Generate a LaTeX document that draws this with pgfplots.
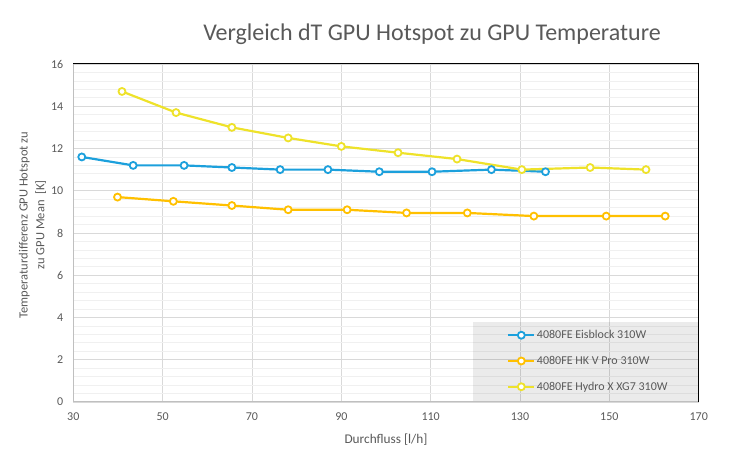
\documentclass[border=0pt]{standalone}
\usepackage{pgfplots}
\pgfplotsset{compat=1.18}
\usepackage{fontspec}
\setmainfont{Carlito}
\definecolor{txt}{HTML}{595959}
\definecolor{cblue}{HTML}{1CA0DC}
\definecolor{corange}{HTML}{FFC000}
\definecolor{cyellow}{HTML}{EEE22A}
\definecolor{gmaj}{HTML}{D9D9D9}
\definecolor{gmin}{HTML}{F0F0F0}
\definecolor{axgray}{HTML}{BFBFBF}
\begin{document}
\begin{tikzpicture}[x=1pt,y=1pt]
\path (0,0) rectangle (751,470);
\begin{axis}[
  at={(73.3pt,68pt)}, anchor=south west, scale only axis,
  width=625.4pt, height=338pt,
  xmin=30, xmax=170, ymin=0, ymax=16,
  xtick={30,50,...,170}, ytick={0,2,...,16},
  minor y tick num=4,
  grid=both,
  major grid style={gmaj, line width=0.75pt},
  minor grid style={gmin, line width=0.75pt},
  axis line style={draw=none},
  major tick length=0pt, minor tick length=0pt,
  clip=false,
  tick label style={font=\fontsize{12}{14}\selectfont, text=txt},
  /pgf/number format/assume math mode=true,
  xticklabel style={yshift=-7.5pt},
  yticklabel style={xshift=-6.6pt},
  legend cell align=left,
  legend style={at={(0.6935,0.1213)}, anchor=west, draw=none, fill=none,
    inner sep=0pt, row sep=13pt, font=\fontsize{12}{14}\selectfont, text=txt,
    nodes={inner sep=1.5pt}},
  legend image code/.code={\draw[#1,mark repeat=2,mark phase=2] plot coordinates {(0pt,0pt) (13pt,0pt) (26pt,0pt)};},
]
\fill[black, fill opacity=0.08] (rel axis cs:0.6396,0) rectangle (rel axis cs:1,0.2358);
\addplot[cblue, line width=2.2pt, mark=*, mark size=3.5pt, mark options={fill=white, draw=cblue, line width=1.8pt}]
  coordinates {(31.9,11.6) (43.4,11.2) (54.8,11.2) (65.5,11.1) (76.3,11.0) (87.0,11.0) (98.5,10.9) (110.3,10.9) (123.6,11.0) (135.7,10.9)};
\addlegendentry{4080FE Eisblock 310W}
\addplot[corange, line width=2.2pt, mark=*, mark size=3.5pt, mark options={fill=white, draw=corange, line width=1.8pt}]
  coordinates {(39.9,9.7) (52.4,9.5) (65.5,9.3) (78.1,9.1) (91.3,9.1) (104.6,8.95) (118.2,8.95) (133.1,8.8) (149.3,8.8) (162.5,8.8)};
\addlegendentry{4080FE HK V Pro 310W}
\addplot[cyellow, line width=2.2pt, mark=*, mark size=3.5pt, mark options={fill=white, draw=cyellow, line width=1.8pt}]
  coordinates {(40.9,14.7) (53.0,13.7) (65.5,13.0) (78.1,12.5) (90.0,12.1) (102.7,11.8) (115.9,11.5) (130.4,11.0) (145.7,11.1) (158.2,11.0)};
\addlegendentry{4080FE Hydro X XG7 310W}
\draw[axgray, line width=1pt] (rel axis cs:0,1) -- (rel axis cs:0,0) -- (rel axis cs:1,0);
\draw[black, line width=1pt] (rel axis cs:0,1) -- (rel axis cs:1,1) -- (rel axis cs:1,0);
\end{axis}
\node[text=txt, font=\fontsize{24}{28}\selectfont, anchor=base] at (432,429.3) {Vergleich dT GPU Hotspot zu GPU Temperature};
\node[text=txt, font=\fontsize{13.3}{15}\selectfont, anchor=base] at (386,26.7) {Durchfluss [l/h]};
\node[text=txt, font=\fontsize{12.5}{16.7}\selectfont, rotate=90, align=center, anchor=center] at (32.5,245) {Temperaturdifferenz GPU Hotspot zu\\zu GPU Mean~~[K]};
\end{tikzpicture}
\end{document}
